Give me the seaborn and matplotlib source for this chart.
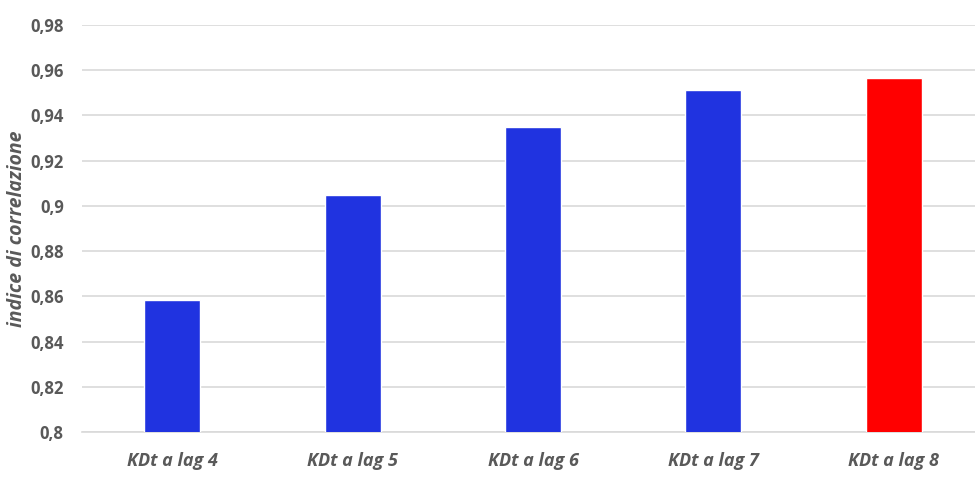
import matplotlib
matplotlib.use("Agg")
import matplotlib.pyplot as plt
import seaborn as sns
import pandas as pd

# dati
categorie = ["KDt a lag 4", "KDt a lag 5", "KDt a lag 6", "KDt a lag 7", "KDt a lag 8"]
valori = [0.8585, 0.9048, 0.9347, 0.9513, 0.9566]
colori = ["#2033E0", "#2033E0", "#2033E0", "#2033E0", "#FF0000"]
tick_y = [0.8, 0.82, 0.84, 0.86, 0.88, 0.9, 0.92, 0.94, 0.96, 0.98]
tick_lab = ["0,8", "0,82", "0,84", "0,86", "0,88", "0,9", "0,92", "0,94", "0,96", "0,98"]

df = pd.DataFrame({"cat": categorie, "val": valori})

sns.set_style("white")
plt.rcParams["font.family"] = ["Open Sans", "DejaVu Sans"]

fig = plt.figure(figsize=(9.75, 4.78), dpi=100)
ax = fig.add_axes([0.084, 0.096, 0.916, 0.852])

sns.barplot(data=df, x="cat", y="val", hue="cat", palette=colori,
            legend=False, width=0.31, saturation=1, ax=ax, zorder=3)

ax.set_ylim(0.8, 0.98)
ax.set_xlim(-0.5, 4.45)
ax.set_yticks(tick_y)
ax.set_yticklabels(tick_lab)
ax.grid(axis="y", color="#D9D9D9", linewidth=1.2, zorder=0)
ax.set_axisbelow(True)
for s in ["top", "right", "left"]:
    ax.spines[s].set_visible(False)
ax.spines["bottom"].set_color("#D9D9D9")
ax.spines["bottom"].set_linewidth(1.2)

ax.tick_params(axis="both", length=0, colors="#595959")
for t in ax.get_yticklabels():
    t.set_fontsize(12)
    t.set_fontweight("bold")
for t in ax.get_xticklabels():
    t.set_fontsize(13)
    t.set_fontweight("bold")
    t.set_fontstyle("italic")
ax.tick_params(axis="x", pad=14)
ax.tick_params(axis="y", pad=13)

ax.set_xlabel("")
ax.set_ylabel("indice di correlazione", fontsize=14, fontweight="bold",
              fontstyle="italic", color="#595959")
ax.yaxis.set_label_coords(-0.062, 0.5)

fig.savefig("out.png", dpi=100)
